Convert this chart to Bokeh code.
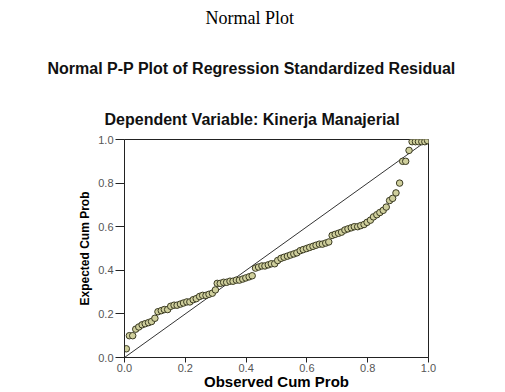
from bokeh.plotting import figure
from bokeh.models import Range1d, Title, FixedTicker
from bokeh.embed import file_html
from bokeh.resources import INLINE

page_title = "Normal Plot"
chart_title = "Normal P-P Plot of Regression Standardized Residual"
subtitle = "Dependent Variable: Kinerja Manajerial"
x_label = "Observed Cum Prob"
y_label = "Expected Cum Prob"
ticks = [0.0, 0.2, 0.4, 0.6, 0.8, 1.0]
tick_labels = ["0.0", "0.2", "0.4", "0.6", "0.8", "1.0"]

observed = [0.006, 0.016, 0.027, 0.037, 0.047, 0.058, 0.068, 0.079, 0.089, 0.100,
            0.110, 0.121, 0.131, 0.142, 0.152, 0.163, 0.173, 0.184, 0.194, 0.205,
            0.215, 0.226, 0.236, 0.247, 0.257, 0.268, 0.278, 0.289, 0.299, 0.305,
            0.315, 0.326, 0.336, 0.347, 0.357, 0.368, 0.378, 0.389, 0.399, 0.410,
            0.420, 0.431, 0.441, 0.452, 0.462, 0.473, 0.483, 0.494, 0.504, 0.515,
            0.525, 0.536, 0.546, 0.557, 0.567, 0.578, 0.588, 0.599, 0.609, 0.620,
            0.630, 0.641, 0.651, 0.662, 0.672, 0.683, 0.693, 0.704, 0.714, 0.725,
            0.735, 0.746, 0.756, 0.767, 0.777, 0.788, 0.798, 0.809, 0.819, 0.830,
            0.840, 0.851, 0.861, 0.872, 0.882, 0.893, 0.905, 0.915, 0.925, 0.936,
            0.946, 0.957, 0.967, 0.978, 0.988, 0.997]
expected = [0.040, 0.100, 0.100, 0.130, 0.140, 0.150, 0.155, 0.160, 0.165, 0.180,
            0.210, 0.215, 0.220, 0.220, 0.235, 0.240, 0.240, 0.245, 0.250, 0.255,
            0.255, 0.265, 0.270, 0.280, 0.285, 0.285, 0.290, 0.295, 0.310, 0.340,
            0.340, 0.345, 0.345, 0.350, 0.350, 0.355, 0.355, 0.360, 0.365, 0.370,
            0.375, 0.410, 0.415, 0.420, 0.420, 0.425, 0.430, 0.430, 0.445, 0.455,
            0.460, 0.465, 0.470, 0.475, 0.480, 0.490, 0.495, 0.500, 0.505, 0.510,
            0.515, 0.520, 0.520, 0.525, 0.530, 0.560, 0.565, 0.570, 0.575, 0.585,
            0.590, 0.595, 0.600, 0.600, 0.605, 0.610, 0.620, 0.630, 0.645, 0.655,
            0.665, 0.675, 0.690, 0.720, 0.730, 0.755, 0.800, 0.900, 0.900, 0.950,
            0.990, 0.990, 0.990, 0.990, 0.990, 0.995]
diag_x = [0.0, 1.0]
diag_y = [0.0, 1.0]

W, H = 505, 392
L, R, T, B = 124, 77, 139, 34

p = figure(width=W, height=H, output_backend="svg", toolbar_location=None,
           title_location=None,
           x_range=Range1d(0, 1), y_range=Range1d(0, 1),
           min_border_left=L, min_border_right=R, min_border_top=T, min_border_bottom=B)
p.background_fill_color = "white"
p.border_fill_color = "white"
p.outline_line_color = "#222222"
p.outline_line_width = 1
p.grid.visible = False

for ax, tout in ((p.xaxis[0], 5), (p.yaxis[0], 9)):
    ax.ticker = FixedTicker(ticks=ticks)
    ax.major_label_overrides = {t: s for t, s in zip(ticks, tick_labels)}
    ax.minor_tick_line_color = None
    ax.major_tick_in = 0
    ax.major_tick_out = tout
    ax.major_tick_line_color = "#222222"
    ax.axis_line_color = "#222222"
    ax.major_label_text_font = "Liberation Sans"
    ax.major_label_text_font_size = "11px"
    ax.major_label_text_color = "#555555"
    ax.axis_label_text_font = "Liberation Sans"
    ax.axis_label_text_font_style = "bold"
    ax.axis_label_text_color = "black"
p.xaxis.major_label_standoff = 1
p.yaxis.major_label_standoff = 2
p.xaxis.axis_label = x_label
p.xaxis.axis_label_text_font_size = "15px"
p.xaxis.axis_label_standoff = -2
p.yaxis.axis_label = y_label
p.yaxis.axis_label_text_font_size = "12px"
p.yaxis.axis_label_standoff = 3

p.line(diag_x, diag_y, line_color="#333333", line_width=1)
p.scatter(observed, expected, size=6.5, fill_color="#cfcf9c", line_color="#3a3a22", line_width=1)

p.add_layout(Title(text=subtitle, align="left", offset=-20, text_font="Liberation Sans",
                   text_font_size="16px", text_font_style="bold", text_color="#111111",
                   standoff=23), "above")
p.add_layout(Title(text=chart_title, align="left", offset=-77, text_font="Liberation Sans",
                   text_font_size="16px", text_font_style="bold", text_color="#111111",
                   standoff=41), "above")
# blank spacer band between the chart title and the page caption
p.add_layout(Title(text=" ", text_font_size="1px", standoff=7), "above")
p.add_layout(Title(text=page_title, align="left", offset=81, text_font="Liberation Serif",
                   text_font_size="18px", text_font_style="normal", text_color="black",
                   standoff=0), "above")

open("out.html", "w").write(file_html(p, INLINE))
